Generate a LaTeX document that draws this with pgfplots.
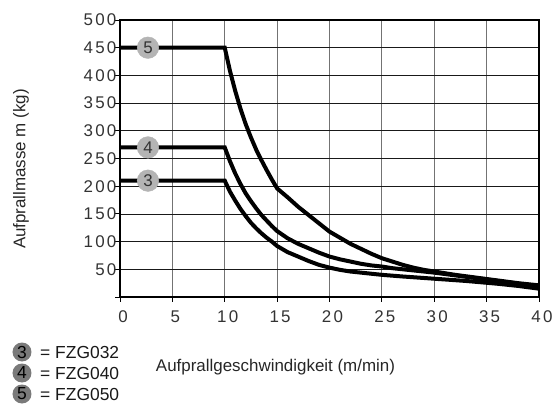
\documentclass[border=0pt]{standalone}
\usepackage{fontspec}
\setmainfont{Liberation Sans}
\newfontfamily\ticfont{Liberation Sans}[LetterSpace=13]
\usepackage{pgfplots}
\pgfplotsset{compat=1.18}
\usetikzlibrary{calc}
\definecolor{cgray}{HTML}{B4B4B4}
\definecolor{lgray}{HTML}{7A7A7A}
\definecolor{dtxt}{HTML}{333333}
\begin{document}
\begin{tikzpicture}
\begin{axis}[name=ax, scale only axis, width=419bp, height=277bp,
  xmin=0, xmax=40, ymin=0, ymax=500,
  xtick={0,5,...,40}, ytick={0,50,...,500},
  yticklabels={{},50,100,150,200,250,300,350,400,450,500},
  tick pos=left, tick align=outside, major tick length=4.5bp,
  tick style={black, line width=0.8bp},
  grid=major,
  x grid style={black!55, line width=0.9bp},
  y grid style={black!90, line width=0.7bp},
  axis line style={black, line width=1.1bp},
  /pgf/number format/assume math mode=true,
  tick label style={font=\fontsize{17}{18}\ticfont, text=black!80},
  yticklabel style={inner sep=0pt, xshift=1bp},
  xticklabel style={inner sep=0pt, yshift=-9bp, xshift=3bp},
  clip=false,
]
\addplot[black, line width=4bp] coordinates {
(0,450) (10,450) (10.5,408) (11,372) (11.5,340) (12,312) (12.5,288) (13,266) (13.5,247) (14,229) (14.5,212) (15,196)
(16,180) (17,163) (18,148) (19,133) (20,118) (21,107) (22,96) (23,87) (24,78) (25,70) (26,64) (27,58) (28,53) (29,49) (30,46) (32,40) (34,35) (36,30) (38,25) (40,21)};
\addplot[black, line width=4bp] coordinates {
(0,270) (10,270) (10.5,245) (11,223) (11.5,204) (12,187) (12.5,173) (13,160) (13.5,148) (14,138) (14.5,128) (15,119)
(16,106) (17,96) (18,88) (19,80) (20,73) (21,68) (22,64) (23,60) (24,57) (25,55) (26,52) (28,48) (30,44) (32,39) (34,34) (36,29) (38,24) (40,19)};
\addplot[black, line width=4bp] coordinates {
(0,210) (10,210) (10.5,190) (11,174) (11.5,159) (12,146) (12.5,134) (13,124) (13.5,115) (14,107) (14.5,100) (15,92)
(16,81) (17,73) (18,65) (19,58) (20,53) (21,49) (22,46) (23,44) (24,42) (25,40) (27,37) (30,33) (33,29) (36,24) (38,20) (40,15)};
\addplot[only marks, draw=cgray, fill=cgray, mark=*, mark size=10.8bp, mark options={fill=cgray, draw=cgray},
  point meta=explicit symbolic, nodes near coords,
  every node near coord/.append style={anchor=center, inner sep=0pt, font=\fontsize{17}{18}\selectfont, text=dtxt}]
  table[meta=label] {
x y label
2.67 450 5
2.67 270 4
2.67 210 3
};
\end{axis}
\node[rotate=90, font=\fontsize{17}{18}\selectfont, text=black!85] at ($(ax.south west)+(-99bp,128bp)$) {Aufprallmasse m (kg)};
\node[font=\fontsize{17}{18}\selectfont, text=black!85] at ($(ax.south west)+(155.5bp,-70.5bp)$) {Aufprallgeschwindigkeit (m/min)};
\foreach \n/\t/\dy in {3/FZG032/-55, 4/FZG040/-76, 5/FZG050/-97}{
  \fill[lgray] ($(ax.south west)+(-98bp,\dy bp)$) circle (9.5bp);
  \node[font=\fontsize{17.5}{18}\selectfont, text=black, inner sep=0pt] at ($(ax.south west)+(-98bp,\dy bp)$) {\n};
  \node[anchor=west, font=\fontsize{17.5}{18}\selectfont, text=black!90, inner sep=0pt] at ($(ax.south west)+(-80bp,\dy bp)$) {= \t};
}
\path[use as bounding box] ($(ax.south west)+(-120bp,-110bp)$) rectangle ($(ax.north east)+(18bp,20bp)$);
\end{tikzpicture}
\end{document}
